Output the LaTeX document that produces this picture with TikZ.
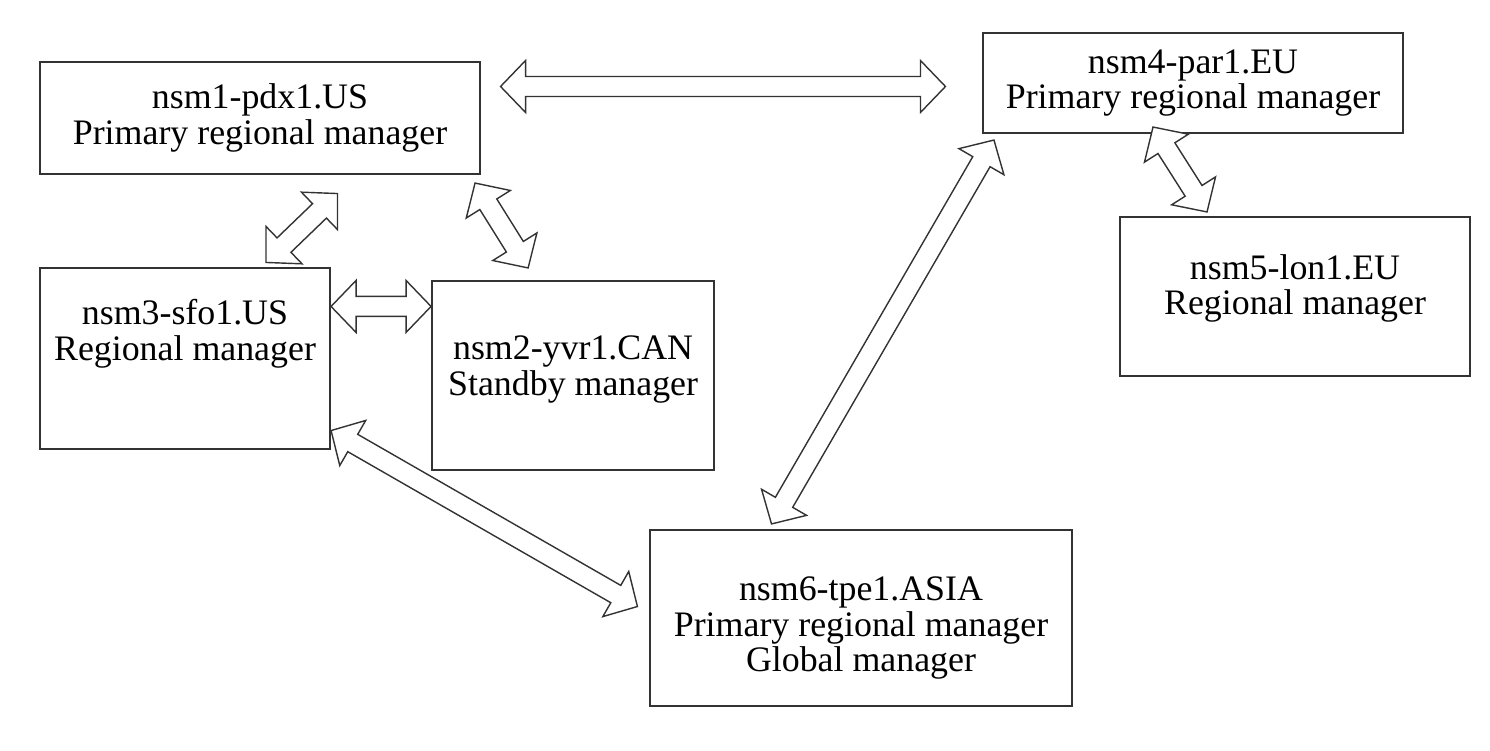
\documentclass[tikz,border=0pt]{standalone}
\usepackage{fontspec}
\setmainfont{Liberation Serif}
\usetikzlibrary{positioning, calc}

\definecolor{edgegray}{HTML}{333333}
\newcommand{\headlen}{0.5cm}
\newcommand{\headwd}{0.52cm}
\newcommand{\shaftwd}{0.2cm}

% hollow double-headed block arrow between two named points
\newcommand{\dblarrow}[2]{%
  \draw[blockarrow] (#1)
    -- ($($(#1)!\headlen!(#2)$)!\headwd!90:(#2)$)
    -- ($($(#1)!\headlen!(#2)$)!\shaftwd!90:(#2)$)
    -- ($($(#2)!\headlen!(#1)$)!\shaftwd!-90:(#1)$)
    -- ($($(#2)!\headlen!(#1)$)!\headwd!-90:(#1)$)
    -- (#2)
    -- ($($(#2)!\headlen!(#1)$)!\headwd!90:(#1)$)
    -- ($($(#2)!\headlen!(#1)$)!\shaftwd!90:(#1)$)
    -- ($($(#1)!\headlen!(#2)$)!\shaftwd!-90:(#2)$)
    -- ($($(#1)!\headlen!(#2)$)!\headwd!-90:(#2)$)
    -- cycle;}

\tikzset{
  mgr/.style={rectangle, draw=edgegray, line width=1.2pt, fill=white},
  mgrtext/.style={align=center, inner sep=0pt, font=\fontsize{20.4}{20.3}\selectfont},
  blockarrow/.style={draw=edgegray, line width=0.8pt, line join=miter, fill=white}
}

\begin{document}
\begin{tikzpicture}
    \useasboundingbox (0,0) rectangle (29.8,15);

    % Manager boxes
    \node (pdx) [mgr, minimum width=8.8cm, minimum height=2.24cm] at (5.2,12.64) {};
    \node (par) [mgr, minimum width=8.4cm, minimum height=2cm] at (23.86,13.34) {};
    \node (lon) [mgr, minimum width=7cm, minimum height=3.18cm] at (25.9,9.07) {};
    \node (sfo) [mgr, minimum width=5.8cm, minimum height=3.62cm] at (3.7,7.83) {};
    \node (yvr) [mgr, minimum width=5.64cm, minimum height=3.78cm, right=2cm of sfo, yshift=-0.34cm] {};
    \node (tpe) [mgr, minimum width=8.44cm, minimum height=3.52cm] at (17.22,2.64) {};

    % Box texts
    \node (pdx-txt) [mgrtext] at (pdx) {nsm1-pdx1.US\\Primary regional manager};
    \node (par-txt) [mgrtext] at (par) {nsm4-par1.EU\\Primary regional manager};
    \node (lon-txt) [mgrtext, yshift=0.16cm] at (lon) {nsm5-lon1.EU\\Regional manager};
    \node (sfo-txt) [mgrtext, yshift=0.49cm] at (sfo) {nsm3-sfo1.US\\Regional manager};
    \node (yvr-txt) [mgrtext, yshift=0.12cm] at (yvr) {nsm2-yvr1.CAN\\Standby manager};
    \node (tpe-txt) [mgrtext, yshift=-0.2cm] at (tpe) {nsm6-tpe1.ASIA\\Primary regional manager\\Global manager};

    % Arrow ends
    \coordinate (pdx-r) at ($(pdx.east)+(0.39,0.63)$);
    \coordinate (par-l) at ($(par.west)+(-0.73,-0.07)$);
    \coordinate (pdx-bl) at ($(pdx.south)+(1.55,-0.37)$);
    \coordinate (sfo-t) at ($(sfo.north)+(1.62,0.09)$);
    \coordinate (pdx-br) at ($(pdx.south east)+(-0.12,-0.16)$);
    \coordinate (yvr-t) at ($(yvr.north)+(-0.9,0.24)$);
    \coordinate (sfo-r) at ($(sfo.north east)+(0,-0.79)$);
    \coordinate (yvr-l) at (yvr.west |- sfo-r);
    \coordinate (sfo-br) at ($(sfo.south east)+(0,0.39)$);
    \coordinate (tpe-l) at ($(tpe.west)+(-0.23,0.23)$);
    \coordinate (par-bl) at ($(par.south west)+(0.24,-0.12)$);
    \coordinate (tpe-t) at ($(tpe.north)+(-1.79,0.1)$);
    \coordinate (par-b) at ($(par.south)+(-0.8,0.14)$);
    \coordinate (lon-t) at ($(lon.north)+(-1.76,0.08)$);

    % Links
    \dblarrow{pdx-r}{par-l}
    \dblarrow{sfo-t}{pdx-bl}
    \dblarrow{pdx-br}{yvr-t}
    \dblarrow{sfo-r}{yvr-l}
    \dblarrow{sfo-br}{tpe-l}
    \dblarrow{par-bl}{tpe-t}
    \dblarrow{par-b}{lon-t}

\end{tikzpicture}
\end{document}
